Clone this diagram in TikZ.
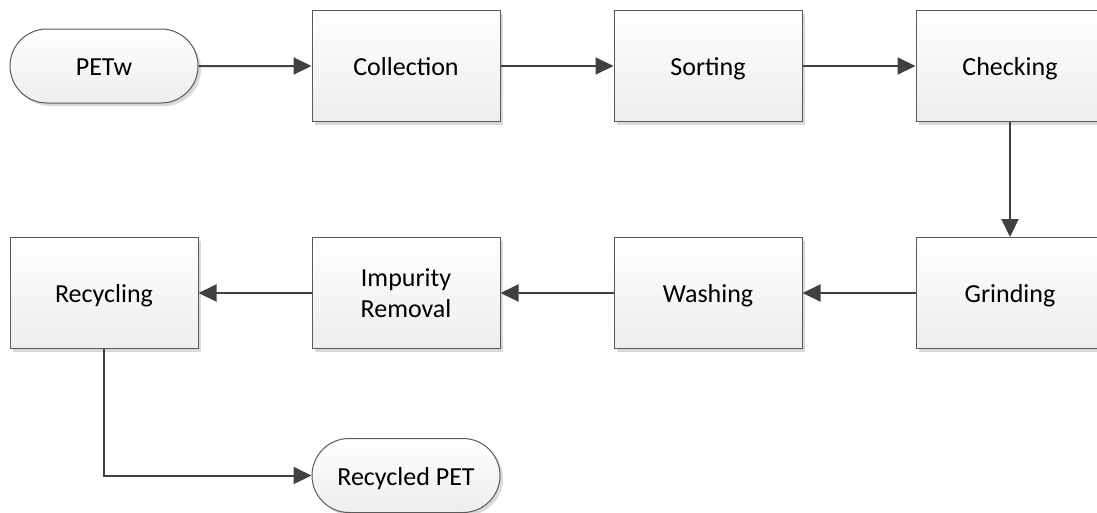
\documentclass[tikz,border=0pt]{standalone}
\usepackage{fontspec}
\setmainfont{Carlito}
\usepackage{tikz}
\usetikzlibrary{positioning, shapes.misc, arrows.meta, shadows}

\begin{document}
\begin{tikzpicture}[
    node distance=115pt and 113pt,
    stepbox/.style={rectangle, draw=black!65, line width=1pt, top color=white, bottom color=black!7, minimum width=188pt, minimum height=111pt, inner sep=0pt, align=center, font=\fontsize{26}{31}\selectfont, text height=24pt, text depth=5pt,
        drop shadow={shadow xshift=3pt, shadow yshift=-3pt, fill=black!15, opacity=1}},
    term/.style={rounded rectangle, draw=black!65, line width=1pt, top color=white, bottom color=black!7, minimum width=188pt, minimum height=74pt, inner sep=0pt, align=center, font=\fontsize{26}{31}\selectfont, text height=24pt, text depth=5pt,
        drop shadow={shadow xshift=3pt, shadow yshift=-3pt, fill=black!15, opacity=1}},
    arrow/.style={-{Triangle[length=18pt, width=17pt]}, line width=2pt, draw=black!75}
]
\useasboundingbox (0,0) rectangle (1097pt,-512pt);
\node[term] (petw) at (104pt,-66pt) {PETw};
\node[stepbox, right=of petw] (collection) {Collection};
\node[stepbox, right=of collection] (sorting) {Sorting};
\node[stepbox, right=of sorting] (checking) {Checking};
\node[stepbox, below=of checking] (grinding) {Grinding};
\node[stepbox, left=of grinding] (washing) {Washing};
\node[stepbox, left=of washing, text height={}, text depth={}] (impurity) {Impurity\\Removal};
\node[stepbox, left=of impurity] (recycling) {Recycling};
\node[term, below=89pt of impurity] (recpet) {Recycled PET};
\draw[arrow] (petw) -- (collection);
\draw[arrow] (collection) -- (sorting);
\draw[arrow] (sorting) -- (checking);
\draw[arrow] (checking) -- (grinding);
\draw[arrow] (grinding) -- (washing);
\draw[arrow] (washing) -- (impurity);
\draw[arrow] (impurity) -- (recycling);
\draw[arrow] (recycling) |- (recpet);
\end{tikzpicture}
\end{document}
